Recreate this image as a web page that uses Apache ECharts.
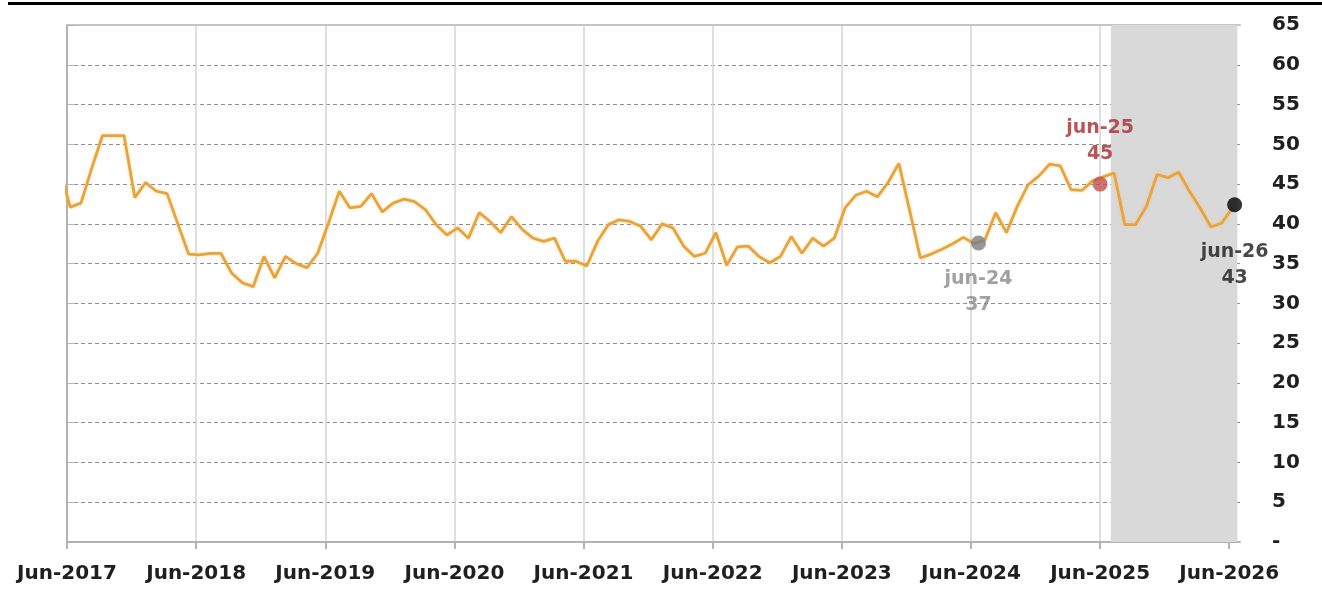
<!DOCTYPE html>
<html>
<head>
<meta charset="utf-8">
<script src="https://cdn.jsdelivr.net/npm/echarts@6/dist/echarts.min.js"></script>
<style>
  html, body { margin: 0; padding: 0; background: #fff; }
  #chart { width: 1322px; height: 595px; }
</style>
</head>
<body>
<div id="chart"></div>
<script>
// monthly series, first point May-2017 (partly outside the axis), last Jun-2026
const values = [
  47.0,
  42.1, 42.6, 47.0, 51.1, 51.1, 51.1, 43.3, 45.2, 44.1, 43.8, 40.0, 36.2,
  36.1, 36.3, 36.3, 33.8, 32.6, 32.1, 35.9, 33.2, 35.9, 35.0, 34.5, 36.3,
  40.1, 44.1, 42.0, 42.2, 43.8, 41.5, 42.6, 43.1, 42.8, 41.8, 39.9, 38.6,
  39.5, 38.2, 41.4, 40.3, 38.9, 40.9, 39.3, 38.2, 37.8, 38.2, 35.3, 35.3,
  34.7, 37.8, 39.9, 40.5, 40.3, 39.7, 38.0, 40.0, 39.5, 37.2, 35.9, 36.3,
  38.9, 34.8, 37.1, 37.2, 35.9, 35.1, 35.9, 38.4, 36.3, 38.2, 37.2, 38.2,
  42.0, 43.6, 44.1, 43.4, 45.2, 47.6, 41.7, 35.7, 36.2, 36.8, 37.5, 38.3,
  37.5, 38.0, 41.4, 38.9, 42.2, 44.9, 46.0, 47.5, 47.3, 44.3, 44.2, 45.4,
  45.9, 46.4, 39.9, 39.9, 42.2, 46.2, 45.8, 46.5, 44.1, 42.0, 39.6, 40.1,
  42.0
]
const xTickLabels = ['Jun-2017', 'Jun-2018', 'Jun-2019', 'Jun-2020', 'Jun-2021',
  'Jun-2022', 'Jun-2023', 'Jun-2024', 'Jun-2025', 'Jun-2026']
const xTickMonths = xTickLabels.map((l, i) => i * 12)

// highlighted points (months counted from Jun-2017)
const markerNames = ['jun-24', 'jun-25', 'jun-26']
const markerMonths = [84.7, 96.0, 108.5]
const markerValues = [37.6, 45.0, 42.4]
const markerLabels = [37, 45, 43]

// forecast period shading, months from Jun-2017
const forecastFrom = 97
const forecastTo = 108.75

const pointOffset = 0.3 // points sit inside their month

const lineData = values.map((v, i) => [i - 1 + pointOffset, v])

const markerStyles = [
  { color: '#7d7d7d', text: '#8a8a8a', position: 'bottom', distance: 16 },
  { color: '#c0504d', text: '#a52a2e', position: 'top', distance: 10 },
  { color: '#000000', text: '#1a1a1a', position: 'bottom', distance: 27 }
]

const markerData = markerNames.map((name, i) => ({
  name: name,
  value: [markerMonths[i], markerValues[i]],
  itemStyle: { color: markerStyles[i].color },
  label: {
    show: true,
    position: markerStyles[i].position,
    distance: markerStyles[i].distance,
    formatter: name + '\n' + markerLabels[i],
    color: markerStyles[i].text,
    fontFamily: 'DejaVu Sans',
    fontWeight: 'bold',
    fontSize: 19,
    lineHeight: 26,
    align: 'center'
  }
}))

const chart = echarts.init(document.getElementById('chart'))

const labelFont = {
  fontFamily: 'DejaVu Sans',
  fontWeight: 'bold',
  fontSize: 20,
  color: '#1f1f1f'
}

chart.setOption({
  animation: false,
  grid: { left: 67, right: 82, top: 25, bottom: 53 },
  graphic: [{
    type: 'rect',
    shape: { x: 8, y: 2, width: 1314, height: 3 },
    style: { fill: '#000' }
  }],
  xAxis: [{
    type: 'value',
    min: 0,
    max: 109,
    interval: 12,
    axisLine: { show: true, lineStyle: { color: '#b3b3b3', width: 2 } },
    axisTick: {
      show: true,
      length: 7,
      customValues: xTickMonths,
      lineStyle: { color: '#b3b3b3', width: 2 }
    },
    axisLabel: {
      ...labelFont,
      margin: 22,
      customValues: xTickMonths,
      formatter: v => xTickLabels[Math.round(v / 12)]
    },
    splitLine: { show: true, lineStyle: { color: '#d4d4d4', width: 1.5 } }
  }, {
    type: 'value',
    position: 'top',
    min: 0,
    max: 109,
    axisLine: { show: true, lineStyle: { color: '#c4c4c4', width: 2 } },
    axisTick: { show: false },
    axisLabel: { show: false },
    splitLine: { show: false }
  }],
  yAxis: {
    type: 'value',
    position: 'right',
    min: 0,
    max: 65,
    interval: 5,
    axisLine: { show: true, lineStyle: { color: '#b3b3b3', width: 2 } },
    axisTick: { show: true, length: 8, lineStyle: { color: '#b3b3b3' } },
    axisLabel: {
      ...labelFont,
      margin: 32,
      formatter: v => (v === 0 ? '-' : String(v))
    },
    splitLine: { show: true, lineStyle: { color: '#8f8f8f', type: [4, 3], width: 1 } }
  },
  series: [{
    name: 'forecast',
    type: 'line',
    data: [],
    z: 1,
    silent: true,
    markArea: {
      silent: true,
      itemStyle: { color: '#d9d9d9' },
      data: [[{ xAxis: forecastFrom }, { xAxis: forecastTo }]]
    }
  }, {
    name: 'index',
    type: 'line',
    data: lineData,
    z: 3,
    showSymbol: false,
    clip: true,
    lineStyle: {
      color: '#e9a33b',
      width: 2.8,
      shadowColor: 'rgba(245, 190, 90, 0.5)',
      shadowBlur: 3
    }
  }, {
    name: 'markers',
    type: 'scatter',
    data: markerData,
    z: 4,
    symbolSize: 15
  }]
})
</script>
</body>
</html>
